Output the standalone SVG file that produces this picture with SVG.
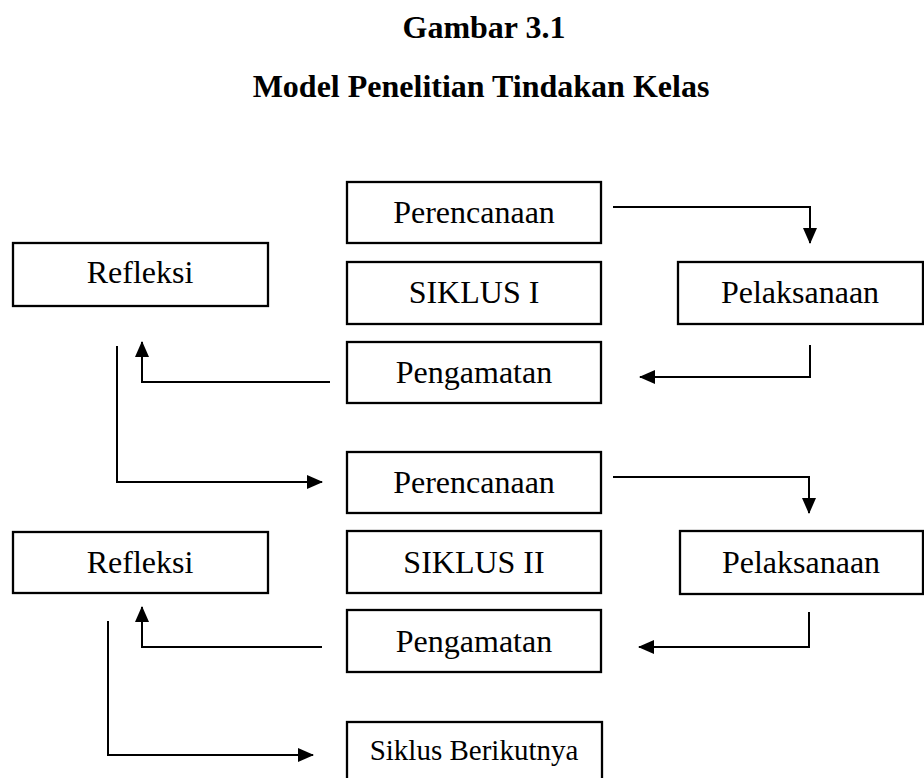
<svg xmlns="http://www.w3.org/2000/svg" width="924" height="778" viewBox="0 0 924 778">
<style>
.box{fill:#fff;stroke:#000;stroke-width:2.3}
.lbl{font-family:"Liberation Serif","Times New Roman",serif;font-size:32px;fill:#000;text-anchor:middle}
.small{font-size:29px}
.title{font-family:"Liberation Serif","Times New Roman",serif;font-size:32px;font-weight:bold;fill:#000;text-anchor:middle}
.conn{fill:none;stroke:#000;stroke-width:2}
</style>
<defs>
<marker id="ah" markerUnits="userSpaceOnUse" markerWidth="16" markerHeight="14" refX="15" refY="7" orient="auto">
<path d="M0,0 L16,7 L0,14 Z" fill="#000"/>
</marker>
</defs>
<rect width="924" height="778" fill="#fff"/>
<g id="title">
<text class="title" x="484" y="38">Gambar 3.1</text>
<text class="title" x="481" y="97">Model Penelitian Tindakan Kelas</text>
</g>
<g id="perencanaan1"><rect class="box" x="347" y="182" width="254" height="61"/><text class="lbl" x="474" y="223">Perencanaan</text></g>
<g id="siklus1"><rect class="box" x="347" y="262" width="254" height="62"/><text class="lbl" x="474" y="303">SIKLUS I</text></g>
<g id="pelaksanaan1"><rect class="box" x="678" y="262" width="245" height="62"/><text class="lbl" x="800" y="303">Pelaksanaan</text></g>
<g id="pengamatan1"><rect class="box" x="347" y="342" width="254" height="61"/><text class="lbl" x="474" y="383">Pengamatan</text></g>
<g id="refleksi1"><rect class="box" x="13" y="243" width="255" height="63"/><text class="lbl" x="140" y="283">Refleksi</text></g>
<g id="perencanaan2"><rect class="box" x="347" y="452" width="254" height="61"/><text class="lbl" x="474" y="493">Perencanaan</text></g>
<g id="siklus2"><rect class="box" x="347" y="531" width="254" height="62"/><text class="lbl" x="474" y="573">SIKLUS II</text></g>
<g id="pelaksanaan2"><rect class="box" x="680" y="531" width="243" height="63"/><text class="lbl" x="801" y="573">Pelaksanaan</text></g>
<g id="pengamatan2"><rect class="box" x="347" y="610" width="254" height="62"/><text class="lbl" x="474" y="652">Pengamatan</text></g>
<g id="refleksi2"><rect class="box" x="13" y="532" width="255" height="61"/><text class="lbl" x="140" y="573">Refleksi</text></g>
<g id="siklus-berikutnya"><rect class="box" x="347" y="722" width="255" height="70"/><text class="lbl small" x="474" y="760">Siklus Berikutnya</text></g>
<g id="connectors">
<path class="conn" d="M613,207 H810 V243" marker-end="url(#ah)"/>
<path class="conn" d="M810,345 V377 H640" marker-end="url(#ah)"/>
<path class="conn" d="M330,382 H142 V342" marker-end="url(#ah)"/>
<path class="conn" d="M117,346 V482 H322" marker-end="url(#ah)"/>
<path class="conn" d="M613,477 H809 V513" marker-end="url(#ah)"/>
<path class="conn" d="M809,612 V647 H639" marker-end="url(#ah)"/>
<path class="conn" d="M322,647 H142 V607" marker-end="url(#ah)"/>
<path class="conn" d="M108,621 V755 H313" marker-end="url(#ah)"/>
</g>
</svg>
